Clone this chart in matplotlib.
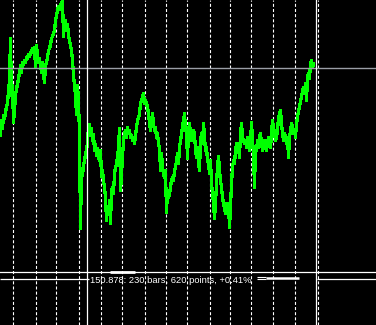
import numpy as np
import matplotlib
matplotlib.use("Agg")
import matplotlib.pyplot as plt

# cours de cloture, une barre par pixel
close = [
    150.672, 150.717, 150.693, 150.732, 150.723, 150.742, 150.760, 150.769, 150.808, 150.839,
    150.966, 150.793, 150.824, 150.711, 150.748, 150.793, 150.814, 150.827, 150.845, 150.863,
    150.884, 150.863, 150.894, 150.887, 150.900, 150.894, 150.909, 150.906, 150.918, 150.912,
    150.924, 150.930, 150.936, 150.924, 150.939, 150.881, 150.945, 150.915, 150.894, 150.906,
    150.884, 150.863, 150.894, 150.854, 150.833, 150.884, 150.894, 150.909, 150.930, 150.936,
    150.948, 150.966, 150.973, 150.982, 150.991, 151.021, 151.036, 151.052, 151.064, 151.055,
    151.067, 151.076, 151.082, 150.973, 151.009, 151.021, 150.991, 151.009, 150.976, 150.960,
    150.945, 150.930, 150.900, 150.854, 150.824, 150.793, 150.735, 150.824, 150.778, 150.672,
    150.389, 150.571, 150.550, 150.580, 150.596, 150.614, 150.626, 150.650, 150.699, 150.705,
    150.672, 150.693, 150.656, 150.675, 150.626, 150.644, 150.611, 150.632, 150.602, 150.596,
    150.626, 150.547, 150.565, 150.535, 150.514, 150.483, 150.413, 150.453, 150.434, 150.474,
    150.404, 150.504, 150.514, 150.495, 150.556, 150.574, 150.586, 150.605, 150.635, 150.693,
    150.504, 150.556, 150.605, 150.656, 150.678, 150.687, 150.666, 150.696, 150.678, 150.687,
    150.666, 150.672, 150.656, 150.666, 150.647, 150.672, 150.696, 150.717, 150.726, 150.738,
    150.769, 150.778, 150.787, 150.799, 150.769, 150.778, 150.769, 150.757, 150.738, 150.708,
    150.687, 150.717, 150.738, 150.708, 150.687, 150.696, 150.666, 150.678, 150.647, 150.635,
    150.565, 150.617, 150.574, 150.556, 150.544, 150.565, 150.438, 150.504, 150.483, 150.495,
    150.514, 150.535, 150.544, 150.535, 150.565, 150.574, 150.596, 150.617, 150.586, 150.635,
    150.656, 150.678, 150.696, 150.717, 150.738, 150.696, 150.678, 150.602, 150.687, 150.708,
    150.678, 150.656, 150.666, 150.687, 150.678, 150.626, 150.605, 150.635, 150.586, 150.565,
    150.656, 150.678, 150.647, 150.708, 150.666, 150.626, 150.635, 150.596, 150.586, 150.556,
    150.596, 150.526, 150.495, 150.465, 150.419, 150.465, 150.526, 150.574, 150.608, 150.565,
    150.535, 150.514, 150.483, 150.465, 150.453, 150.434, 150.465, 150.444, 150.465, 150.392,
    150.453, 150.526, 150.574, 150.596, 150.586, 150.626, 150.647, 150.626, 150.635, 150.605,
    150.678, 150.708, 150.666, 150.656, 150.647, 150.656, 150.635, 150.666, 150.647, 150.626,
    150.647, 150.711, 150.656, 150.617, 150.514, 150.635, 150.626, 150.656, 150.635, 150.666,
    150.678, 150.647, 150.626, 150.656, 150.656, 150.635, 150.626, 150.647, 150.666, 150.656,
    150.635, 150.678, 150.717, 150.696, 150.678, 150.656, 150.666, 150.687, 150.726, 150.738,
    150.748, 150.708, 150.678, 150.656, 150.678, 150.666, 150.647, 150.666, 150.605, 150.666,
    150.687, 150.708, 150.696, 150.678, 150.687, 150.666, 150.708, 150.726, 150.748, 150.757,
    150.778, 150.787, 150.808, 150.818, 150.799, 150.830, 150.778, 150.848, 150.860, 150.845,
    150.890, 150.900, 150.878, 150.890,
]

# grille verticale (index de barre)
grid_x = [12, 35, 55, 78, 100, 121, 144, 165, 186, 209, 229, 250, 272, 294, 317]

# outil de mesure : point de depart et point d'arrivee
start_bar, start_price = 86, 150.258
end_bar, end_price = 315, 150.878
label = "150.878: 230 bars, 620 points, +0.41%"

px = 0.00304  # prix par pixel
top = 151.082 + px * 0.5
bottom = 151.082 - px * 324.5

plt.rcParams['lines.scale_dashes'] = False

fig = plt.figure(figsize=(3.76, 3.25), dpi=100, facecolor="black")
ax = fig.add_axes([0, 0, 1, 1])
ax.set_facecolor("black")
ax.set_xlim(-0.5, 375.5)
ax.set_ylim(bottom, top)
ax.axis("off")

for g in grid_x:
    ax.axvline(g, color="white", lw=0.8, ls=(0, (2.2, 1.5)), zorder=1)

x = np.arange(len(close))
ax.plot(x, close, color="#00ff00", lw=1.6, zorder=2, antialiased=False)

# reticule
ax.axhline(end_price, color="#9a9ea6", lw=1.0, zorder=3)
ax.axvline(end_bar, color="white", lw=0.9, zorder=3)
ax.axvline(start_bar, color="white", lw=0.9, zorder=3)
ax.axhline(start_price, color="white", lw=0.9, zorder=3)

# ligne basse coupee par l'etiquette
low = start_price - 7 * px
ax.hlines(low, -0.5, start_bar, color="white", lw=0.9, zorder=3)
ax.hlines(low, start_bar, start_bar + 2, color="white", lw=0.9, zorder=3)
ax.hlines(low, end_bar + 1, 375.5, color="white", lw=0.9, zorder=3)
ax.hlines(start_price, 109, 134, color="white", lw=2.0, zorder=3)
ax.hlines([low + 2 * px, low], 256, 265, color="white", lw=0.8, zorder=3)
ax.hlines(low + 0.5 * px, 265, 298, color="white", lw=1.8, zorder=3)

ax.text(start_bar + 4, low - 1.5 * px, label, color="white", fontsize=6.75,
        family="Liberation Sans", va="center", ha="left", zorder=4)

fig.savefig("out.png", dpi=100, facecolor="black")
